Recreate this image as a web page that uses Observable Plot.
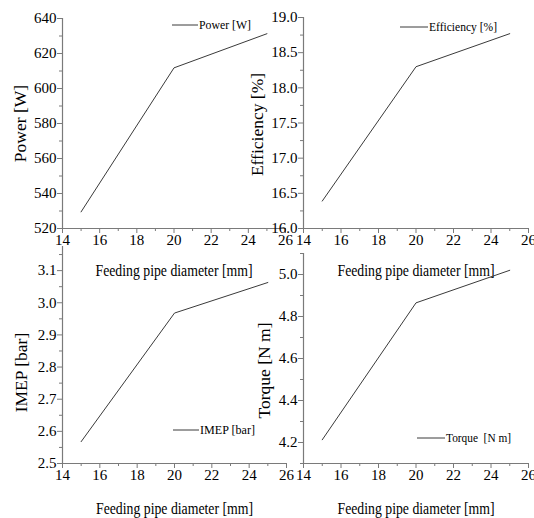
<!DOCTYPE html>
<html>
<head>
<meta charset="utf-8">
<script src="https://cdn.jsdelivr.net/npm/d3@7"></script>
<script src="https://cdn.jsdelivr.net/npm/@observablehq/plot@0.6"></script>
<style>
  html, body { margin: 0; padding: 0; background: white; }
  #wrap { position: relative; width: 534px; height: 518px; overflow: hidden; }
  #wrap svg { position: absolute; left: 0; top: 0; }
  #wrap svg, #wrap svg g, #wrap svg text {
    font-family: "Liberation Serif", "Times New Roman", "DejaVu Serif", serif !important;
    font-variant: normal !important;
  }
</style>
</head>
<body>
<div id="wrap"></div>
<script>
// ---- data ----
const diameter = [15, 20, 25];
const power = [529.5, 611.8, 631.3];
const efficiency = [16.39, 18.30, 18.77];
const imep = [2.568, 2.968, 3.063];
const torque = [4.213, 4.865, 5.02];

const xTicks = [14, 16, 18, 20, 22, 24, 26];
const xMinor = [15, 17, 19, 21, 23, 25];
const powerTicks = [520, 540, 560, 580, 600, 620, 640];
const powerMinor = [530, 550, 570, 590, 610, 630];
const effTicks = [16.0, 16.5, 17.0, 17.5, 18.0, 18.5, 19.0];
const effMinor = [16.25, 16.75, 17.25, 17.75, 18.25, 18.75];
const imepTicks = [2.5, 2.6, 2.7, 2.8, 2.9, 3.0, 3.1];
const imepMinor = [2.55, 2.65, 2.75, 2.85, 2.95, 3.05, 3.15];
const torqueTicks = [4.2, 4.4, 4.6, 4.8, 5.0];
const torqueMinor = [4.1, 4.3, 4.5, 4.7, 4.9, 5.1];

const xTitle = "Feeding pipe diameter [mm]";
const axisColor = "#7a7a7a";
const lineColor = "#3a3a3a";
const FONT = "Liberation Serif";

function panel(o) {
  const rows = diameter.map((d, i) => ({x: d, y: o.values[i]}));
  const legendMark = () => {
    const g = d3.create("svg:g");
    const lx = o.m.left + o.legend.dx;
    const ly = o.m.top + o.legend.dy;
    g.append("line").attr("x1", lx).attr("x2", lx + o.legend.len).attr("y1", ly).attr("y2", ly)
      .attr("stroke", lineColor).attr("stroke-width", 1);
    g.append("text").attr("x", lx + o.legend.len + 1).attr("y", ly).attr("dy", "0.35em")
      .attr("text-anchor", "start")
      .attr("font-size", 12).attr("fill", "black")
      .attr("textLength", o.legend.tl).attr("lengthAdjust", "spacingAndGlyphs")
      .text(o.legend.text);
    return g.node();
  };
  const svg = Plot.plot({
    width: 534, height: 518,
    marginLeft: o.m.left, marginRight: 534 - o.m.right,
    marginTop: o.m.top, marginBottom: 518 - o.m.bottom,
    style: {background: "transparent", fontFamily: FONT, fontSize: "15px", color: "black", overflow: "visible"},
    x: {domain: [14, 26]},
    y: {domain: o.yDomain},
    marks: [
      Plot.axisX({ticks: xMinor, tickSize: 3, tickFormat: () => "", stroke: axisColor, label: null}),
      Plot.axisX({ticks: xTicks, tickSize: 5, tickPadding: 1, tickFormat: d => String(d), stroke: axisColor, fill: "black", fontSize: 15, label: null}),
      Plot.axisY({ticks: o.yMinor, tickSize: 3, tickFormat: () => "", stroke: axisColor, label: null}),
      Plot.axisY({ticks: o.yTicks, tickSize: 5, tickPadding: 1, tickFormat: o.fmt, stroke: axisColor, fill: "black", fontSize: 15, label: null}),
      Plot.ruleX([14], {stroke: axisColor, strokeWidth: 1.2}),
      Plot.ruleY([o.yDomain[0]], {stroke: axisColor, strokeWidth: 1.2}),
      Plot.line(rows, {x: "x", y: "y", stroke: lineColor, strokeWidth: 1}),
      Plot.text([o.yTitle], {frameAnchor: "left", textAnchor: "middle", lineAnchor: "middle", dx: o.yTitleDx, dy: o.yTitleDy || 0, rotate: -90, fontSize: 17.5, fill: "black"}),
      Plot.text([xTitle], {frameAnchor: "bottom", textAnchor: "middle", lineAnchor: "middle", dy: o.xTitleDy, fontSize: 17, fill: "black", className: "xtitle"}),
      legendMark
    ]
  });
  d3.select(svg).selectAll(".xtitle text").attr("textLength", 157).attr("lengthAdjust", "spacingAndGlyphs");
  d3.select(svg).selectAll("text").each(function() {
    this.style.setProperty("font-family", "'Liberation Serif', 'Times New Roman', serif", "important");
    this.style.setProperty("font-variant", "normal", "important");
  });
  return svg;
}

const wrap = document.getElementById("wrap");
wrap.append(panel({
  values: power, yDomain: [520, 640], yTicks: powerTicks, yMinor: powerMinor, fmt: d => String(d),
  m: {left: 62, right: 285, top: 18, bottom: 228},
  yTitle: "Power [W]", yTitleDx: -42, yTitleDy: 0, xTitleDy: 42,
  legend: {text: "Power [W]", dx: 110, dy: 7, len: 26, tl: 52}
}));
wrap.append(panel({
  values: efficiency, yDomain: [16, 19], yTicks: effTicks, yMinor: effMinor, fmt: d => d.toFixed(1),
  m: {left: 303, right: 528, top: 17, bottom: 228},
  yTitle: "Efficiency [%]", yTitleDx: -46, yTitleDy: 1.5, xTitleDy: 42,
  legend: {text: "Efficiency [%]", dx: 97, dy: 10, len: 28, tl: 68}
}));
wrap.append(panel({
  values: imep, yDomain: [2.5, 3.175], yTicks: imepTicks, yMinor: imepMinor, fmt: d => d.toFixed(1),
  m: {left: 62, right: 286, top: 246, bottom: 463},
  yTitle: "IMEP [bar]", yTitleDx: -41, yTitleDy: 17.5, xTitleDy: 45,
  legend: {text: "IMEP [bar]", dx: 111, dy: 184, len: 26, tl: 55}
}));
wrap.append(panel({
  values: torque, yDomain: [4.1, 5.1], yTicks: torqueTicks, yMinor: torqueMinor, fmt: d => d.toFixed(1),
  m: {left: 303, right: 528, top: 253, bottom: 463},
  yTitle: "Torque [N m]", yTitleDx: -39, yTitleDy: 12, xTitleDy: 45,
  legend: {text: "Torque  [N m]", dx: 114, dy: 185, len: 28, tl: 65}
}));
</script>
</body>
</html>
